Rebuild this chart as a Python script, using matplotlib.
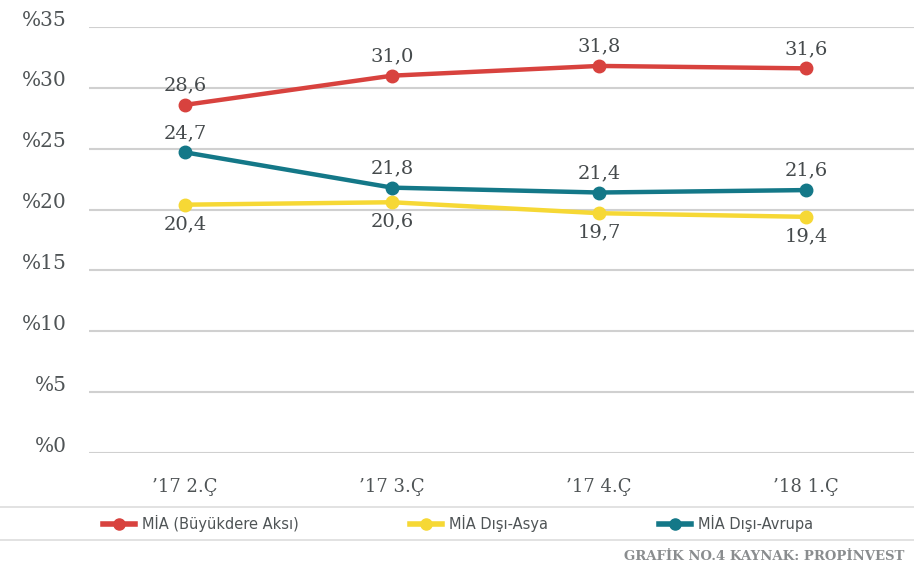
import matplotlib
matplotlib.use("Agg")
import matplotlib.pyplot as plt
from matplotlib.lines import Line2D
import numpy as np

# Data
quarters = ["’17 2.Ç", "’17 3.Ç", "’17 4.Ç", "’18 1.Ç"]
buyukdere = [28.6, 31.0, 31.8, 31.6]
disi_asya = [20.4, 20.6, 19.7, 19.4]
disi_avrupa = [24.7, 21.8, 21.4, 21.6]
series_names = ["MİA (Büyükdere Aksı)", "MİA Dışı-Asya", "MİA Dışı-Avrupa"]
yticks = [0, 5, 10, 15, 20, 25, 30, 35]

RED = "#d8423e"
YELLOW = "#f6d835"
TEAL = "#147888"
TEXT = "#4f5456"
GRID = "#d0d0d0"
SERIF = "DejaVu Serif"

fig = plt.figure(figsize=(9.14, 5.68), dpi=100)
fig.patch.set_facecolor("white")
ax = fig.add_axes([0.0974, 0.2025, 0.9026, 0.75])

x = np.arange(len(quarters))
ax.set_xlim(-0.464, 3.52)
ax.set_ylim(0, 35)

for v in yticks:
    ax.axhline(v, color=GRID, linewidth=1.5, zorder=1)
    ax.annotate(f"%{v}", xy=(0, v), xycoords=ax.get_yaxis_transform(),
                xytext=(-16, 5), textcoords="offset points",
                ha="right", va="center", fontsize=14.5, color=TEXT, family=SERIF)

series = [(buyukdere, RED, 1), (disi_asya, YELLOW, -1), (disi_avrupa, TEAL, 1)]
for vals, col, side in series:
    ax.plot(x, vals, color=col, linewidth=3.2, marker="o", markersize=9,
            solid_capstyle="round", zorder=3)
    for xi, v in zip(x, vals):
        ax.annotate(f"{v:.1f}".replace(".", ","), xy=(xi, v),
                    xytext=(0, 14 * side), textcoords="offset points",
                    ha="center", va="center", fontsize=14, color="#454a4c",
                    family=SERIF)

ax.set_xticks(x)
ax.set_xticklabels(quarters, fontsize=13, color=TEXT, family=SERIF)
ax.tick_params(axis="x", length=0, pad=18)
ax.set_yticks([])
for s in ax.spines.values():
    s.set_visible(False)

# separators around legend
for yy in [0.107, 0.049]:
    fig.add_artist(Line2D([0, 1], [yy, yy], transform=fig.transFigure,
                          color="#dddddd", linewidth=1.2))

handles = [Line2D([], [], color=c, linewidth=4, marker="o", markersize=8)
           for c in [RED, YELLOW, TEAL]]
leg = fig.legend(handles, series_names, loc="center left",
                 bbox_to_anchor=(0.106, 0.079), ncol=3, frameon=False,
                 fontsize=10.5, handlelength=2.2, handletextpad=0.5,
                 columnspacing=7.6, borderaxespad=0)
for t in leg.get_texts():
    t.set_color(TEXT)

fig.text(0.99, 0.021, "GRAFİK NO.4 KAYNAK: PROPİNVEST", fontsize=9.5,
         color="#8a8d8f", family=SERIF, fontweight="bold", va="center",
         ha="right")

fig.savefig("out.png", dpi=100, facecolor="white")
